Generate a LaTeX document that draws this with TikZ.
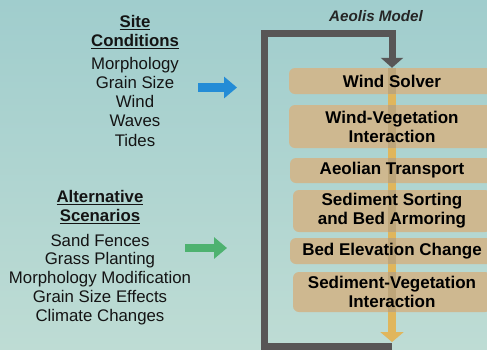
\documentclass[tikz,border=0pt]{standalone}
\usepackage{fontspec}
\setmainfont{Liberation Sans}
\usetikzlibrary{arrows.meta}

\definecolor{bgtop}{RGB}{160,205,205}
\definecolor{bgbot}{RGB}{190,220,212}
\definecolor{boxtan}{RGB}{206,184,144}
\definecolor{flowgold}{RGB}{224,182,92}
\definecolor{flowdim}{RGB}{190,166,122}
\definecolor{loopgray}{RGB}{88,86,86}
\definecolor{inblue}{RGB}{36,140,214}
\definecolor{ingreen}{RGB}{78,178,112}

% heading with a thick rule under it
\newcommand{\ulhead}[1]{\leavevmode\vtop{\hbox{#1}\kern1.6pt\hrule height 1.6pt}}

\pgfdeclarelayer{back}
\pgfsetlayers{back,main}

\tikzset{
  item/.style={anchor=base, inner sep=0pt, text=black!92, font=\fontsize{16.8}{19}\selectfont},
  head/.style={anchor=base, inner sep=0pt, text=black!92, font=\fontsize{16.8}{19}\selectfont\bfseries},
  stage/.style={fill=boxtan, rounded corners=6pt, minimum width=206pt, align=center,
    inner sep=0pt, font=\fontsize{17}{19}\selectfont\bfseries,
    path picture={\draw[line width=8pt, flowdim]
      (path picture bounding box.north) -- (path picture bounding box.south);}},
  loopline/.style={line width=7pt, loopgray, -{Triangle[length=10pt,width=22pt]}},
  flowline/.style={line width=8pt, flowgold, -{Triangle[length=10pt,width=23pt]}},
  feed/.style={line width=8.3pt, -{Triangle[length=13pt,width=21pt]}}
}

\begin{document}
\begin{tikzpicture}[x=1pt,y=-1pt]
    \useasboundingbox (0,0) rectangle (487,349);
    \clip (0,0) rectangle (487,349);
    \begin{pgfonlayer}{back}
      \shade[top color=bgtop, bottom color=bgbot] (0,0) rectangle (487,349);
    \end{pgfonlayer}

    % site conditions
    \node[head] (sitehead) at (135,27) {\ulhead{Site}};
    \node[head] (sitehead2) at (135,46) {\ulhead{Conditions}};
    \foreach \t [count=\i] in {Morphology,Grain Size,Wind,Waves,Tides}
      \node[item] (site\i) at (135,{69+19.25*(\i-1)}) {\t};

    % alternative scenarios
    \node[head] (althead) at (100,202) {\ulhead{Alternative}};
    \node[head] (althead2) at (100,221) {\ulhead{Scenarios}};
    \foreach \t [count=\i] in {Sand Fences,Grass Planting,Morphology Modification,Grain Size Effects,Climate Changes}
      \node[item] (alt\i) at (100,{246+18.75*(\i-1)}) {\t};

    % model stages
    \node[anchor=base, text=black!85, font=\fontsize{15.2}{18}\selectfont\bfseries\itshape] (model) at (376,21) {Aeolis Model};
    \node[stage, minimum height=26pt] (wind) at (392,81) {Wind Solver};
    \node[stage, minimum height=43pt] (windveg) at (392,126.5) {Wind-Vegetation\\Interaction};
    \node[stage, minimum height=25pt, minimum width=204pt] (transport) at (392,170.5) {Aeolian Transport};
    \node[stage, minimum height=42pt, minimum width=198pt] (sorting) at (392,211) {Sediment Sorting\\and Bed Armoring};
    \node[stage, minimum height=26pt, minimum width=204pt] (bedlevel) at (392,251) {Bed Elevation Change};
    \node[stage, minimum height=40pt, minimum width=198pt] (sedveg) at (392,292) {Sediment-Vegetation\\Interaction};

    \coordinate (flowend) at (392,342);
    \coordinate (loopstart) at (392,346);
    \begin{pgfonlayer}{back}
      \draw[flowline] (wind.north) -- (flowend);
    \end{pgfonlayer}

    \draw[loopline] (loopstart) -| (264,33) -| (wind.north);

    % inputs
    \coordinate (bluefrom) at (198,87.5); \coordinate (blueto) at (237,87.5);
    \coordinate (greenfrom) at (185,248); \coordinate (greento) at (227,248);
    \draw[feed, inblue] (bluefrom) -- (blueto);
    \draw[feed, ingreen] (greenfrom) -- (greento);
\end{tikzpicture}
\end{document}
